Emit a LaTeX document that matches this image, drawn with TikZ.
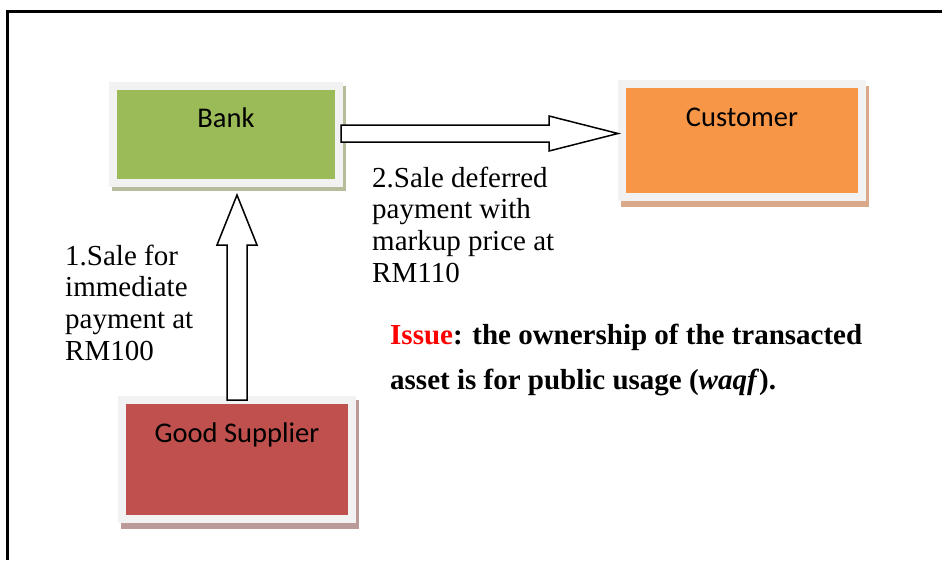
\documentclass[tikz,border=0pt]{standalone}
\usepackage{fontspec}
\setmainfont{Liberation Serif}
\newfontfamily\carlito{Carlito}
\usetikzlibrary{calc,backgrounds}
\definecolor{bankgreen}{HTML}{9BBB59}
\definecolor{custorange}{HTML}{F79646}
\definecolor{supred}{HTML}{C0504D}
\definecolor{framegray}{HTML}{F2F2F2}
\definecolor{shgreen}{HTML}{B5BD9A}
\definecolor{shorange}{HTML}{D9A98A}
\definecolor{shred}{HTML}{BC9A9A}
\definecolor{issuered}{HTML}{FF0000}
\begin{document}
\begin{tikzpicture}[x=1pt,y=1pt,
  box/.style={draw=framegray, line width=8pt, inner sep=0pt, outer sep=0pt, anchor=north west},
  boxtext/.style={font=\carlito\fontsize{28.5}{34}\selectfont, inner sep=0pt, anchor=base},
  lbl/.style={inner sep=0pt, anchor=base west, font=\fontsize{29}{31.7}\selectfont},
  bigarrow/.style={draw=black, fill=white, line width=1.5pt, line join=miter}]
\useasboundingbox (0,0) rectangle (942,-560);
% boxes
\node[box, fill=bankgreen, minimum width=226pt, minimum height=97pt] (bank) at (113,-86) {};
\node[box, fill=custorange, minimum width=240pt, minimum height=113pt] (cust) at (622,-84) {};
\node[box, fill=supred, minimum width=230pt, minimum height=119pt] (sup) at (122,-400) {};
\begin{scope}[on background layer]
\fill[white] (0,0) rectangle (942,-560);
\fill[shgreen] ($(bank.north west)+(-1,0)$) rectangle ($(bank.south east)+(7,-8)$);
\fill[shorange] ($(cust.north west)+(-1,-2)$) rectangle ($(cust.south east)+(7,-10)$);
\fill[shred] ($(sup.north west)+(-1,0)$) rectangle ($(sup.south east)+(7,-10)$);
\end{scope}
% frame
\draw[line width=3pt, black] (7.3,-560) -- (7.3,-11) -- (942,-11);
% box texts
\node[boxtext] (bankt) at (226,-127) {Bank};
\node[boxtext] (custt) at (742,-126) {Customer};
\node[boxtext] (supt) at (237,-442) {Good Supplier};
% arrows
\draw[bigarrow] let \p1=(bank.east), \p2=(cust.west) in
  (\x1+2pt,\y1+9.5pt) -- (\x2-73pt,\y1+9.5pt) -- (\x2-73pt,\y1+18.5pt) -- (\x2-4pt,\y1+1pt)
  -- (\x2-73pt,\y1-16.5pt) -- (\x2-73pt,\y1-7.5pt) -- (\x1+2pt,\y1-7.5pt) -- cycle;
\draw[bigarrow] let \p1=(sup.north), \p2=(bank.south) in
  (\x1-10pt,\y1) -- (\x1-10pt,\y2-62pt) -- (\x1-20pt,\y2-62pt) -- (\x1,\y2-12pt)
  -- (\x1+20pt,\y2-62pt) -- (\x1+10pt,\y2-62pt) -- (\x1+10pt,\y1) -- cycle;
% labels
\node[lbl] (l1) at (65,-265) {\parbox[t]{200pt}{\raggedright 1.Sale for\\ immediate\\ payment at\\ RM100}};
\node[lbl] (l2) at (372,-187) {\parbox[t]{240pt}{\raggedright 2.Sale deferred\\ payment with\\ markup price at\\ RM110}};
\node[lbl, font=\bfseries\fontsize{29}{45}\selectfont] (issue) at (390,-344)
  {\parbox[t]{520pt}{\raggedright\textcolor{issuered}{Issue}: the ownership of the transacted\\ asset is for public usage (\textit{waqf}).}};
\end{tikzpicture}
\end{document}
